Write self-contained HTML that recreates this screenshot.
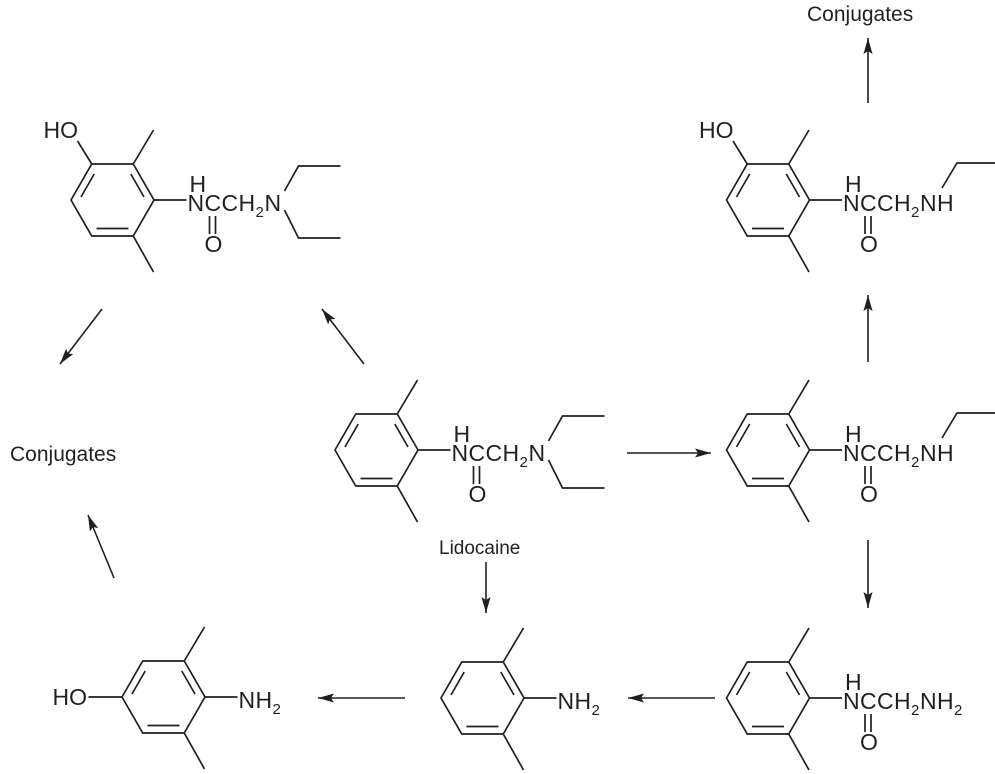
<!DOCTYPE html>
<html><head><meta charset="utf-8"><style>
html,body{margin:0;padding:0;background:#fff}
svg{display:block}
text{font-family:"Liberation Sans",Arial,sans-serif;fill:#231f20}
</style></head><body>
<svg width="995" height="774" viewBox="0 0 995 774" xmlns="http://www.w3.org/2000/svg">
<defs>
<marker id="ah" viewBox="0 0 16 9" refX="16" refY="4.5" markerWidth="16" markerHeight="9" markerUnits="userSpaceOnUse" orient="auto">
<path d="M0,0 L16,4.5 L0,9 L3,4.5 Z" fill="#231f20"/>
</marker>
<g id="ring" stroke="#231f20" stroke-width="1.7" fill="none">
<polygon points="-41.5,0 -20.75,-36 20.75,-36 41.5,0 20.75,36 -20.75,36"/>
<line x1="-31.5" y1="-3" x2="-18.3" y2="-26"/>
<line x1="18.3" y1="-26" x2="31.5" y2="-3"/>
<line x1="-16" y1="28.5" x2="16" y2="28.5"/>
<line x1="20.75" y1="-36" x2="41" y2="-70"/>
<line x1="20.75" y1="36" x2="41" y2="72"/>
<line x1="41.5" y1="0" x2="74" y2="0"/>
</g>
<g id="amide">
<text x="75" y="11" font-size="23">N</text>
<text x="77" y="-8" font-size="23">H</text>
<text x="92" y="11" font-size="23">C</text>
<text x="109" y="11" font-size="23">C</text>
<text x="126" y="11" font-size="23">H</text>
<text x="143" y="17" font-size="15">2</text>
<text x="92" y="52" font-size="23">O</text>
<line x1="97" y1="16" x2="97" y2="34" stroke="#231f20" stroke-width="1.7"/>
<line x1="103" y1="16" x2="103" y2="34" stroke="#231f20" stroke-width="1.7"/>
</g>
<g id="diet">
<text x="152" y="11" font-size="23">N</text>
<polyline points="172,-9 186,-34 228,-34" stroke="#231f20" stroke-width="1.7" fill="none"/>
<polyline points="172,10 186,38 228,38" stroke="#231f20" stroke-width="1.7" fill="none"/>
</g>
<g id="monoet">
<text x="152" y="11" font-size="23">N</text>
<text x="169" y="11" font-size="23">H</text>
<polyline points="174,-12 189,-37 228,-37" stroke="#231f20" stroke-width="1.7" fill="none"/>
</g>
<g id="ho">
<text x="-69" y="-62" font-size="23">HO</text>
<line x1="-20.75" y1="-36" x2="-35" y2="-59" stroke="#231f20" stroke-width="1.7"/>
</g>
</defs>

<g transform="translate(376.5,450)"><use href="#ring"/><use href="#amide"/><use href="#diet"/></g>
<text x="439" y="554" font-size="19">Lidocaine</text>

<g transform="translate(112.5,200)"><use href="#ring"/><use href="#amide"/><use href="#diet"/><use href="#ho"/></g>

<g transform="translate(768,200)"><use href="#ring"/><use href="#amide"/><use href="#monoet"/><use href="#ho"/></g>

<g transform="translate(768,450)"><use href="#ring"/><use href="#amide"/><use href="#monoet"/></g>

<g transform="translate(768,698)"><use href="#ring"/><use href="#amide"/>
<text x="152" y="11" font-size="23">N</text><text x="169" y="11" font-size="23">H</text><text x="186" y="17" font-size="15">2</text></g>

<g transform="translate(482.5,698)"><use href="#ring"/>
<text x="75" y="11" font-size="23">N</text><text x="92" y="11" font-size="23">H</text><text x="109" y="17" font-size="15">2</text></g>

<g transform="translate(163.5,697)"><use href="#ring"/>
<text x="75" y="11" font-size="23">N</text><text x="92" y="11" font-size="23">H</text><text x="109" y="17" font-size="15">2</text>
<line x1="-41.5" y1="0" x2="-75" y2="0" stroke="#231f20" stroke-width="1.7"/>
<text x="-111" y="8" font-size="23">HO</text></g>

<text x="10" y="461" font-size="21">Conjugates</text>
<text x="807" y="21" font-size="21">Conjugates</text>

<g stroke="#231f20" stroke-width="1.6" fill="none" marker-end="url(#ah)">
<line x1="627" y1="453" x2="711" y2="453"/>
<line x1="364" y1="364" x2="322" y2="309"/>
<line x1="102" y1="309" x2="60" y2="364"/>
<line x1="114" y1="578" x2="88" y2="515"/>
<line x1="486" y1="562" x2="486" y2="613"/>
<line x1="405" y1="698" x2="318" y2="698"/>
<line x1="715" y1="698" x2="628" y2="698"/>
<line x1="868" y1="362" x2="868" y2="295"/>
<line x1="868" y1="540" x2="868" y2="608"/>
<line x1="868" y1="103" x2="868" y2="38"/>
</g>
</svg>
</body></html>
